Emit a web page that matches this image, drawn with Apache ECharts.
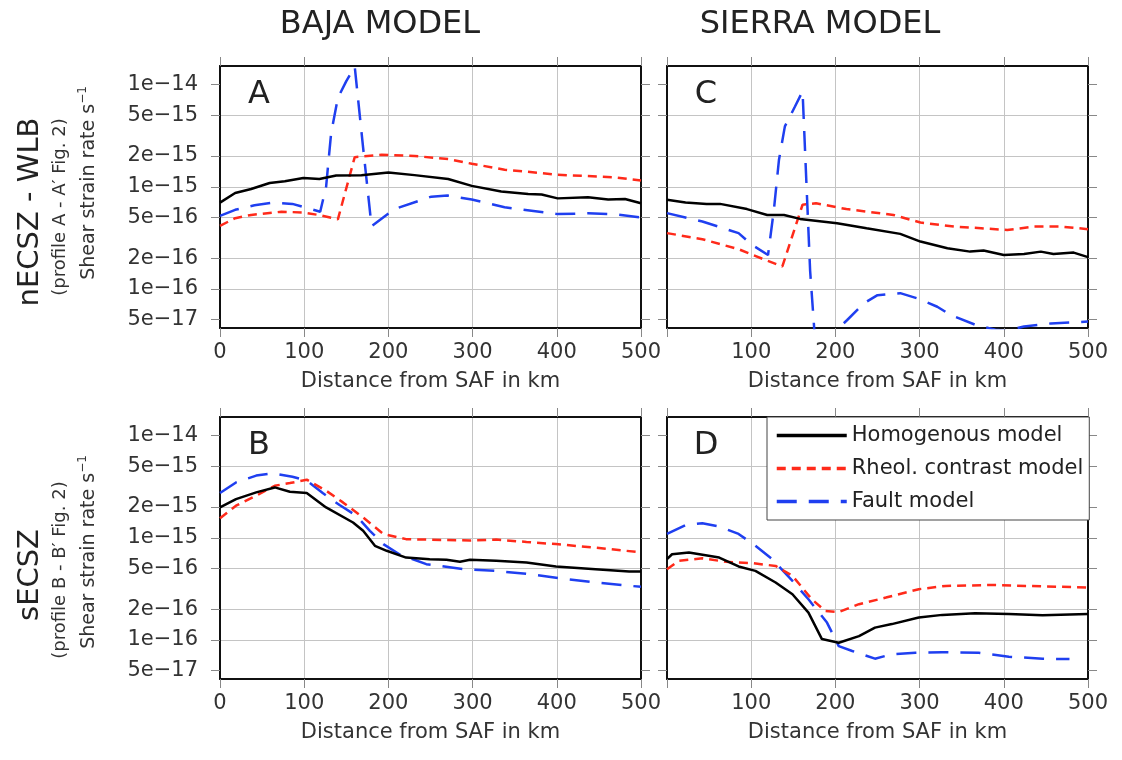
<!DOCTYPE html>
<html>
<head>
<meta charset="utf-8">
<script src="https://cdn.jsdelivr.net/npm/echarts@6/dist/echarts.min.js"></script>
<style>
  html, body { margin: 0; padding: 0; background: #fff; }
  #chart { width: 1122px; height: 760px; }
</style>
</head>
<body>
<div id="chart"></div>
<script>
// series names + tick values
var seriesNames = ['Homogenous model', 'Rheol. contrast model', 'Fault model'];
var yTicks = [5e-17, 1e-16, 2e-16, 5e-16, 1e-15, 2e-15, 5e-15, 1e-14];

// panel A : nECSZ - WLB, Baja model   [distance km, shear strain rate]
var aHomogenous = [[0,7.0e-16],[18,8.7e-16],[37,9.5e-16],[59,1.09e-15],[77,1.13e-15],[99,1.22e-15],[118,1.19e-15],[138,1.29e-15],[168,1.30e-15],[200,1.38e-15],[231,1.30e-15],[271,1.19e-15],[299,1.02e-15],[334,9.0e-16],[366,8.5e-16],[382,8.4e-16],[401,7.7e-16],[437,7.9e-16],[461,7.5e-16],[481,7.6e-16],[500,6.9e-16]];
var aRheol = [[0,4.15e-16],[18,4.93e-16],[37,5.3e-16],[73,5.7e-16],[99,5.6e-16],[117,5.3e-16],[140,4.8e-16],[160,1.95e-15],[192,2.06e-15],[231,2.0e-15],[271,1.87e-15],[299,1.68e-15],[338,1.47e-15],[382,1.36e-15],[401,1.31e-15],[429,1.28e-15],[468,1.24e-15],[500,1.15e-15]];
var aFault = [[0,5.2e-16],[18,5.95e-16],[41,6.6e-16],[64,7.0e-16],[86,6.8e-16],[119,5.7e-16],[126,1.0e-15],[132,3.36e-15],[140,7.4e-15],[150,1.08e-14],[160,1.5e-14],[170,2.4e-15],[180,4.1e-16],[207,6.05e-16],[251,8.0e-16],[270,8.2e-16],[299,7.5e-16],[338,6.3e-16],[401,5.4e-16],[437,5.5e-16],[468,5.4e-16],[500,5.0e-16]];

// panel B : sECSZ, Baja model
var bHomogenous = [[0,1.98e-15],[19,2.39e-15],[43,2.78e-15],[65,3.11e-15],[83,2.82e-15],[103,2.74e-15],[126,1.98e-15],[158,1.41e-15],[170,1.17e-15],[184,8.35e-16],[198,7.46e-16],[221,6.4e-16],[249,6.18e-16],[269,6.1e-16],[285,5.82e-16],[297,6.1e-16],[328,5.95e-16],[364,5.73e-16],[399,5.24e-16],[446,4.93e-16],[486,4.68e-16],[500,4.68e-16]];
var bRheol = [[0,1.55e-15],[19,2.06e-15],[43,2.58e-15],[65,3.23e-15],[83,3.43e-15],[103,3.7e-15],[126,2.89e-15],[146,2.22e-15],[170,1.58e-15],[194,1.09e-15],[221,9.7e-16],[269,9.5e-16],[297,9.4e-16],[328,9.6e-16],[364,9.1e-16],[399,8.67e-16],[446,8.0e-16],[500,7.2e-16]];
var bFault = [[0,2.74e-15],[19,3.48e-15],[43,4.06e-15],[63,4.27e-15],[86,3.96e-15],[103,3.62e-15],[122,2.74e-15],[142,2.09e-15],[162,1.64e-15],[178,1.17e-15],[194,8.67e-16],[213,6.9e-16],[245,5.52e-16],[289,4.93e-16],[328,4.74e-16],[368,4.4e-16],[407,3.99e-16],[446,3.65e-16],[500,3.31e-16]];

// panel C : nECSZ - WLB, Sierra model
var cHomogenous = [[0,7.46e-16],[22,7.0e-16],[47,6.8e-16],[63,6.8e-16],[95,6.05e-16],[119,5.3e-16],[139,5.3e-16],[158,4.85e-16],[202,4.4e-16],[237,3.93e-16],[277,3.46e-16],[301,2.91e-16],[333,2.5e-16],[360,2.32e-16],[376,2.38e-16],[400,2.15e-16],[424,2.2e-16],[444,2.32e-16],[459,2.2e-16],[483,2.27e-16],[500,2.05e-16]];
var cRheol = [[0,3.52e-16],[42,3.07e-16],[85,2.45e-16],[117,1.92e-16],[137,1.66e-16],[161,6.67e-16],[177,6.9e-16],[213,6.05e-16],[269,5.3e-16],[301,4.47e-16],[341,4.08e-16],[373,3.93e-16],[404,3.78e-16],[436,4.08e-16],[468,4.08e-16],[500,3.85e-16]];
var cFault = [[0,5.52e-16],[42,4.57e-16],[85,3.52e-16],[101,2.7e-16],[120,2.15e-16],[127,6.0e-16],[133,1.84e-15],[140,3.9e-15],[152,6.1e-15],[161,8.6e-15],[166,9.0e-16],[170,1.5e-16],[176,3.0e-17],[190,2.6e-17],[202,4.0e-17],[214,4.97e-17],[234,7.24e-17],[250,8.7e-17],[277,9.1e-17],[297,8.1e-17],[321,6.7e-17],[337,5.55e-17],[368,4.4e-17],[390,4.0e-17],[404,3.9e-17],[424,4.3e-17],[456,4.6e-17],[500,4.8e-17]];

// panel D : sECSZ, Sierra model
var dHomogenous = [[0,6.18e-16],[6,6.9e-16],[26,7.18e-16],[62,6.4e-16],[85,5.24e-16],[105,4.74e-16],[129,3.65e-16],[149,2.8e-16],[168,1.85e-16],[184,1.02e-16],[204,9.4e-17],[228,1.09e-16],[247,1.32e-16],[267,1.43e-16],[299,1.66e-16],[327,1.76e-16],[366,1.83e-16],[406,1.8e-16],[446,1.75e-16],[500,1.8e-16]];
var dRheol = [[0,4.93e-16],[14,5.95e-16],[42,6.3e-16],[70,5.82e-16],[101,5.65e-16],[129,5.3e-16],[149,4.24e-16],[172,2.5e-16],[188,1.92e-16],[204,1.88e-16],[228,2.24e-16],[260,2.6e-16],[299,3.14e-16],[331,3.38e-16],[386,3.45e-16],[426,3.38e-16],[500,3.26e-16]];
var dFault = [[0,1.09e-15],[22,1.33e-15],[42,1.39e-15],[62,1.29e-15],[85,1.09e-15],[105,8.35e-16],[125,6.18e-16],[149,3.78e-16],[168,2.5e-16],[190,1.48e-16],[204,8.7e-17],[220,7.8e-17],[247,6.56e-17],[267,7.24e-17],[295,7.5e-17],[327,7.6e-17],[370,7.5e-17],[406,6.86e-17],[446,6.56e-17],[478,6.5e-17]];

var FONT = 'DejaVu Sans';
var Y_MIN = 4.15e-17, Y_MAX = 1.52e-14;

var panels = [
  { letter: 'A', left: 220, top: 66, first: true, data: [aHomogenous, aRheol, aFault] },
  { letter: 'C', left: 667, top: 66, first: false, data: [cHomogenous, cRheol, cFault] },
  { letter: 'B', left: 220, top: 417, first: true, data: [bHomogenous, bRheol, bFault] },
  { letter: 'D', left: 667, top: 417, first: false, data: [dHomogenous, dRheol, dFault] }
];
var lineColors = ['#000000', '#ff2a1a', '#1f3ff0'];
var lineStyles = [
  { color: lineColors[0], width: 2.5, type: 'solid' },
  { color: lineColors[1], width: 2.5, type: [9, 6] },
  { color: lineColors[2], width: 2.5, type: [20, 12] }
];

function fmtSci(v) {
  var e = Math.floor(Math.log10(v) + 1e-9);
  var m = Math.round(v / Math.pow(10, e));
  return m + 'e\u2212' + (-e);
}

var grids = [], xAxes = [], yAxes = [], series = [], graphics = [];

panels.forEach(function (p, i) {
  grids.push({ left: p.left, top: p.top, width: 421, height: 262, show: false });

  var tickStyle = { show: true, inside: false, length: 9, lineStyle: { color: '#888', width: 1 } };
  var frame = { show: true, onZero: false, lineStyle: { color: '#111', width: 2 } };
  var gridLine = { show: true, showMinLine: false, showMaxLine: false, lineStyle: { color: '#c4c4c4', width: 1 } };
  var first = p.first;

  xAxes.push({ type: 'value', gridIndex: i, position: 'bottom', min: 0, max: 500, interval: 100,
    axisLine: frame, axisTick: tickStyle,
    axisLabel: { fontFamily: FONT, fontSize: 21, color: '#333', margin: 14, hideOverlap: false,
      formatter: function (v) { return (!first && v === 0) ? '' : String(v); } },
    splitLine: gridLine,
    name: 'Distance from SAF in km', nameLocation: 'middle', nameGap: 43,
    nameTextStyle: { fontFamily: FONT, fontSize: 21, color: '#333' } });
  xAxes.push({ type: 'value', gridIndex: i, position: 'top', min: 0, max: 500, interval: 100,
    axisLine: frame, axisTick: tickStyle, axisLabel: { show: false }, splitLine: { show: false } });

  yAxes.push({ type: 'log', gridIndex: i, position: 'left', min: Y_MIN, max: Y_MAX,
    axisLine: frame,
    axisTick: Object.assign({ customValues: yTicks }, tickStyle),
    axisLabel: { show: first, customValues: yTicks, formatter: fmtSci, fontFamily: FONT, fontSize: 21, color: '#333', margin: 22 },
    splitLine: gridLine });
  yAxes.push({ type: 'log', gridIndex: i, position: 'right', min: Y_MIN, max: Y_MAX,
    axisLine: frame,
    axisTick: Object.assign({ customValues: yTicks }, tickStyle),
    axisLabel: { show: false }, splitLine: { show: false } });

  p.data.forEach(function (d, k) {
    series.push({ name: seriesNames[k], type: 'line', xAxisIndex: 2 * i, yAxisIndex: 2 * i,
      data: d, symbol: 'none', showSymbol: false, clip: true, silent: true, animation: false,
      color: lineColors[k], itemStyle: { color: lineColors[k] },
      lineStyle: lineStyles[k], z: 3 + (2 - k) });
  });

  graphics.push({ type: 'text', x: p.left + 39, y: p.top + 29,
    style: { text: p.letter, font: '32px "' + FONT + '"', fill: '#222', align: 'center', verticalAlign: 'middle' } });
});

// column titles
graphics.push({ type: 'text', x: 380, y: 25,
  style: { text: 'BAJA MODEL', font: '32px "' + FONT + '"', fill: '#222', align: 'center', verticalAlign: 'middle' } });
graphics.push({ type: 'text', x: 820, y: 25,
  style: { text: 'SIERRA MODEL', font: '32px "' + FONT + '"', fill: '#222', align: 'center', verticalAlign: 'middle' } });

// row titles (rotated)
function rowTitle(main, sub, mainY, subY, rateY) {
  graphics.push({ type: 'text', x: 30, y: mainY, rotation: Math.PI / 2,
    style: { text: main, font: '29px "' + FONT + '"', fill: '#222', align: 'center', verticalAlign: 'middle' } });
  graphics.push({ type: 'text', x: 60, y: subY, rotation: Math.PI / 2,
    style: { text: sub, font: '18px "' + FONT + '"', fill: '#333', align: 'center', verticalAlign: 'middle' } });
  graphics.push({ type: 'text', x: 89, y: rateY, rotation: Math.PI / 2,
    style: { text: '{m|Shear strain rate s}{s|\u22121}', align: 'center', verticalAlign: 'middle',
      rich: {
        m: { fontFamily: FONT, fontSize: 19, fill: '#333', color: '#333' },
        s: { fontFamily: FONT, fontSize: 12, fill: '#333', color: '#333', padding: [0, 0, 12, 0] }
      } } });
}
rowTitle('nECSZ - WLB', '(profile A - A\u2032 Fig. 2)', 212, 207, 183);
rowTitle('sECSZ', '(profile B - B\u2032 Fig. 2)', 575, 570, 552);

var chart = echarts.init(document.getElementById('chart'), null, { renderer: 'canvas' });
chart.setOption({
  animation: false,
  backgroundColor: '#fff',
  grid: grids,
  xAxis: xAxes,
  yAxis: yAxes,
  series: series,
  graphic: graphics,
  legend: {
    data: seriesNames, orient: 'vertical', left: 767, top: 417, z: 10,
    padding: [8, 6, 8, 8], itemWidth: 70, itemHeight: 14, itemGap: 12,
    selectedMode: false, backgroundColor: '#fff', borderColor: '#444', borderWidth: 1,
    itemStyle: { opacity: 0 },
    lineStyle: { width: 3.5 },
    textStyle: { fontFamily: FONT, fontSize: 21, color: '#222' }
  }
});
</script>
</body>
</html>
